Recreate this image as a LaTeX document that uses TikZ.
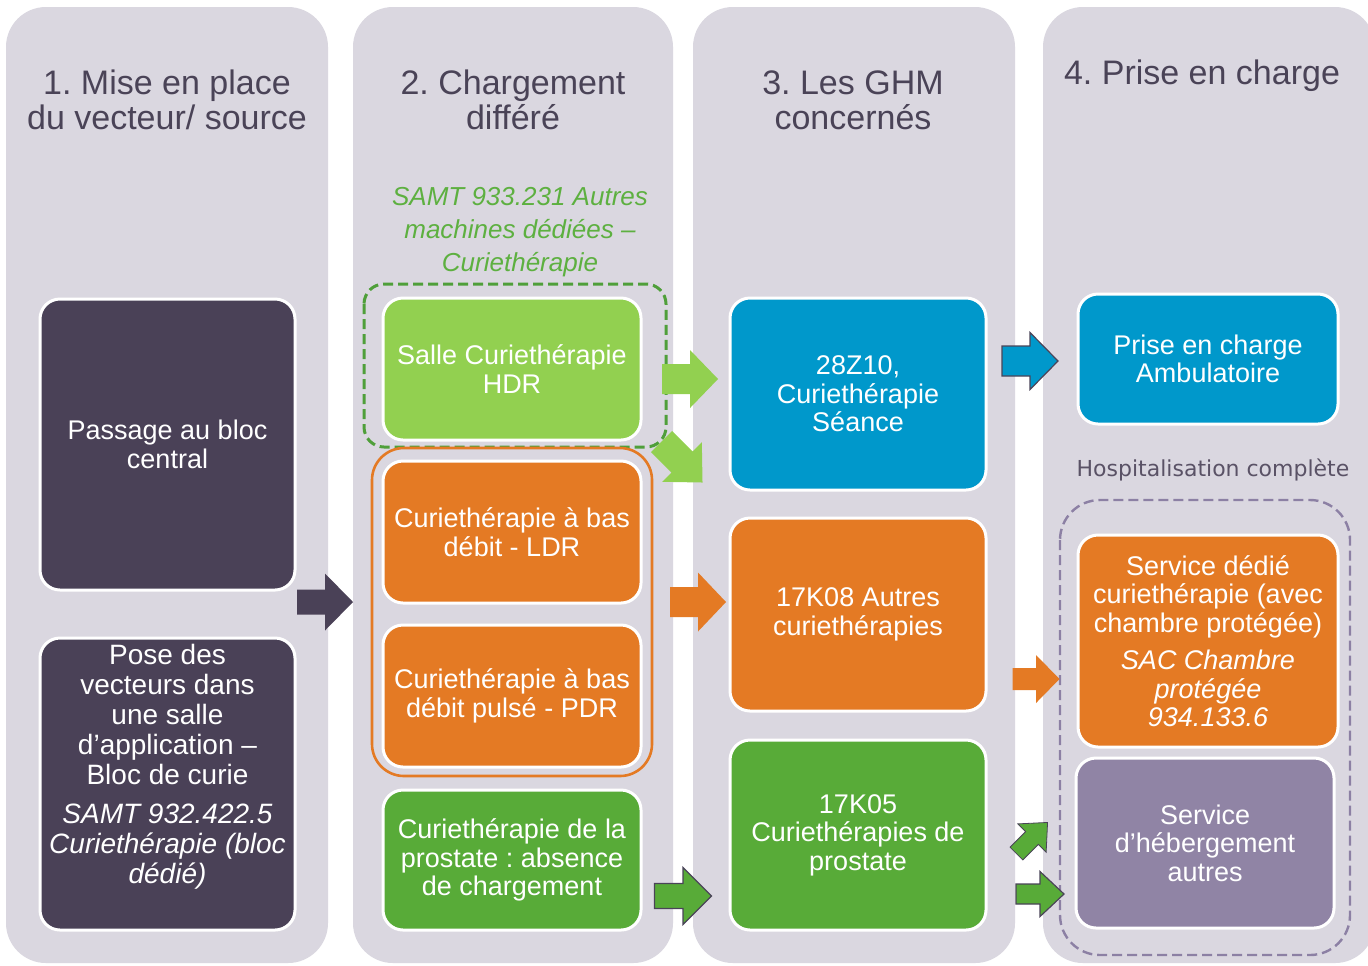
\documentclass[tikz,border=0pt]{standalone}
\usepackage{fontspec}
\setmainfont{Liberation Sans}
\newfontfamily\hospfont{DejaVu Sans}
\frenchspacing

\definecolor{colbg}{HTML}{DAD7E0}
\definecolor{headtext}{HTML}{4A4357}
\definecolor{darkbox}{HTML}{4A4157}
\definecolor{lightgreen}{HTML}{92D050}
\definecolor{orangebox}{HTML}{E47A24}
\definecolor{darkgreen}{HTML}{58AB38}
\definecolor{bluebox}{HTML}{0098CB}
\definecolor{purplebox}{HTML}{9084A5}
\definecolor{italgreen}{HTML}{5DB040}
\definecolor{dashgreen}{HTML}{4F9F3A}
\definecolor{dashpurple}{HTML}{8C80A4}
\definecolor{hosptext}{HTML}{5A5266}
\definecolor{arrowline}{HTML}{4A4458}

\tikzset{
  column/.style={fill=colbg, rounded corners=20pt},
  colhead/.style={align=center, text=headtext, font=\fontsize{17}{17.5}\selectfont},
  box/.style={rectangle, rounded corners=10pt, draw=white, line width=1.5pt, text=white,
    align=center, inner sep=0pt, font=\fontsize{13.5}{14.25}\selectfont},
  pics/blockarrow/.style n args={3}{code={
    \path[pic actions] (-#1,-#3) -- (0,-#3) -- (0,-#2) -- (#1,0) -- (0,#2) -- (0,#3) -- (-#1,#3) -- cycle;}},
}

\begin{document}
\begin{tikzpicture}[x=0.5pt, y=-0.5pt]

        \useasboundingbox (0,0) rectangle (1368,965);
        \clip (0,0) rectangle (1368,965);
        \fill[white] (0,0) rectangle (1368,965);

        \fill[column] (6,7) rectangle (328,963);
        \fill[column] (353,7) rectangle (673,963);
        \fill[column] (693,7) rectangle (1015,963);
        \fill[column] (1043,7) rectangle (1375,963);

        \node[colhead] (h1) at (167,100) {1. Mise en place\\du vecteur/ source};
        \node[colhead] (h2) at (513,100) {2. Chargement\\diff\'er\'e};
        \node[colhead] (h3) at (853,100) {3. Les GHM\\concern\'es};
        \node[colhead] (h4) at (1202,76) {4. Prise en charge};

        \node[align=center, text=italgreen, font=\fontsize{13}{16.5}\selectfont\itshape] (samt) at (520,232)
            {SAMT 933.231 Autres\\machines d\'edi\'ees --\\Curieth\'erapie};
        \node[text=hosptext, font=\hospfont\fontsize{11}{13}\selectfont] (hosp) at (1213,470) {Hospitalisation compl\`ete};

        \draw[dashgreen, line width=1.5pt, dash pattern=on 5pt off 2.5pt, rounded corners=10pt] (364,284) rectangle (666,447);
        \draw[orangebox, line width=1.3pt, rounded corners=16pt] (372,448) rectangle (652,776);
        \draw[dashpurple, line width=1.2pt, dash pattern=on 5pt off 2.5pt, rounded corners=20pt] (1060,500) rectangle (1350,955);

        \node[box, fill=darkbox, minimum width=127.5pt, minimum height=145.5pt] (passage) at (167.5,444.5)
            {Passage au bloc\\central};
        \node[box, fill=darkbox, minimum width=127.5pt, minimum height=146pt, font=\fontsize{14}{15}\selectfont] (pose) at (167.5,784)
            {Pose des\\vecteurs dans\\une salle\\d'application --\\Bloc de curie\\[4.5pt]
             \itshape SAMT 932.422.5\\\itshape Curieth\'erapie (bloc\\\itshape d\'edi\'e)\\[5pt]\mbox{}};

        \node[box, fill=lightgreen, minimum width=129pt, minimum height=71pt] (hdr) at (512,369)
            {Salle Curieth\'erapie\\HDR};
        \node[box, fill=orangebox, minimum width=129pt, minimum height=71pt] (ldr) at (512,532)
            {Curieth\'erapie \`a bas\\d\'ebit - LDR};
        \node[box, fill=orangebox, minimum width=129pt, minimum height=71pt] (pdr) at (512,696)
            {Curieth\'erapie \`a bas\\d\'ebit puls\'e - PDR};
        \node[box, fill=darkgreen, minimum width=129pt, minimum height=70pt] (prostate) at (512,860)
            {Curieth\'erapie de la\\prostate : absence\\de chargement};

        \node[box, fill=bluebox, minimum width=128pt, minimum height=96pt] (seance) at (858,394)
            {28Z10,\\Curieth\'erapie\\S\'eance};
        \node[box, fill=orangebox, minimum width=128pt, minimum height=96.5pt] (autres) at (858,614.5)
            {17K08 Autres\\curieth\'erapies};
        \node[box, fill=darkgreen, minimum width=128pt, minimum height=95pt] (k05) at (858,835)
            {17K05\\Curieth\'erapies de\\prostate};

        \node[box, fill=bluebox, minimum width=130pt, minimum height=65pt] (ambu) at (1208,359)
            {Prise en charge\\Ambulatoire};
        \node[box, fill=orangebox, minimum width=130pt, minimum height=106pt] (dedie) at (1208,641)
            {Service d\'edi\'e\\curieth\'erapie (avec\\chambre prot\'eg\'ee)\\[4.5pt]
             \itshape SAC Chambre\\\itshape prot\'eg\'ee\\\itshape 934.133.6};
        \node[box, fill=purplebox, minimum width=129pt, minimum height=85pt] (heberg) at (1205,843)
            {Service\\d'h\'ebergement\\autres};

        \pic[fill=darkbox] at (325,602) {blockarrow={28}{28.5}{12.5}};
        \pic[fill=lightgreen] at (690,379) {blockarrow={28}{29}{15}};
        \pic[fill=lightgreen, rotate=-45] at (682,462) {blockarrow={29}{28}{15}};
        \pic[fill=orangebox] at (698,602) {blockarrow={28}{29.5}{15}};
        \pic[fill=darkgreen, draw=arrowline, line width=0.6pt] at (683,896) {blockarrow={28.5}{28.5}{12.5}};
        \pic[fill=bluebox, draw=arrowline, line width=0.6pt] at (1030,361) {blockarrow={28}{28.5}{15}};
        \pic[fill=orangebox] at (1036,679) {blockarrow={23.5}{24}{11}};
        \pic[fill=darkgreen, draw=arrowline, line width=0.4pt, rotate=45] at (1032,838) {blockarrow={22}{20}{9}};
        \pic[fill=darkgreen, draw=arrowline, line width=0.6pt] at (1040,894) {blockarrow={24}{22.5}{10}};

    \end{tikzpicture}
\end{document}
